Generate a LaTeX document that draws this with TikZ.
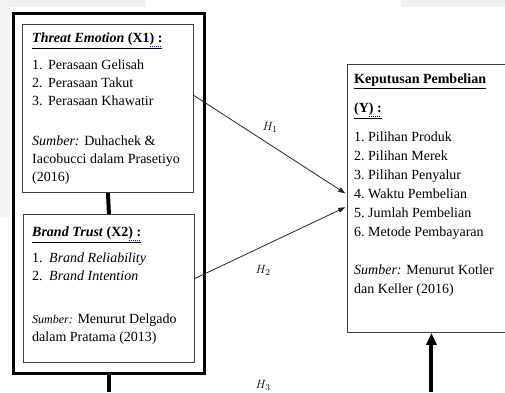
\documentclass[tikz,border=0pt]{standalone}
\usepackage{fontspec}
\setmainfont{Liberation Serif}
\usetikzlibrary{arrows.meta}
\tikzset{
  box/.style={draw=black!75, line width=0.9pt, inner sep=0pt, anchor=north west},
  txt/.style={anchor=north west, inner sep=0pt, align=left, font=\fontsize{14}{18}\selectfont},
  link/.style={black!85, line width=0.8pt, shorten >=2pt, -{Triangle[length=7pt,width=5pt]}},
  heavy/.style={line width=4pt},
  hyp/.style={font=\fontsize{13}{13}\selectfont}
}
\newcommand{\itm}[2]{\makebox[#1][l]{#2}}
\newlength{\spellw}
\newcommand{\spellmark}[1]{\settowidth{\spellw}{#1}\rlap{\raisebox{-4pt}{\color{blue!80!black}\leaders\hbox to 2pt{\hss\rule{1pt}{0.8pt}\hss}\hskip\spellw}}#1}
\begin{document}
\begin{tikzpicture}[x=1pt,y=-1pt]
  \useasboundingbox (0,0) rectangle (505,392);
  \clip (0,0) rectangle (505,392);
  %\fill[white] (0,0) rectangle (505,392);
  \fill[black!5] (0,0) rectangle (146,7);
  \fill[black!5] (401,0) rectangle (505,7);
  \fill[black!4] (0,7) rectangle (10,217);
  \coordinate (bottom) at (0,392);
  % left side: the two variables X1 and X2
  \node[box, draw=black, line width=2.5pt, minimum width=191pt, minimum height=360pt] (outer) at (12,12) {};
  \node[box, minimum width=171pt, minimum height=168pt] (emo) at (22,24) {};
  \node[box, minimum width=171pt, minimum height=148pt] (trust) at (23,214) {};
  \node[txt] (emotxt) at (32,33) {\underline{\textbf{\textit{Threat Emotion}} \textbf{(X1\spellmark{) :}}}\\[9pt]
    \itm{16pt}{1.}Perasaan Gelisah\\
    \itm{16pt}{2.}Perasaan Takut\\
    \itm{16pt}{3.}Perasaan Khawatir\\[22pt]
    \textit{Sumber:} Duhachek \&\\
    Iacobucci dalam Prasetiyo\\
    (2016)};
  \node[txt] (trusttxt) at (32,227) {\underline{\textbf{\textit{Brand Trust}} \textbf{(X2\spellmark{) :}}}\\[8pt]
    \itm{17pt}{1.}\textit{Brand Reliability}\\
    \itm{17pt}{2.}\textit{Brand Intention}\\[25pt]
    {\fontsize{12}{18}\selectfont\textit{Sumber:}} Menurut Delgado\\
    dalam Pratama (2013)};
  % right side: Y
  \node[box, minimum width=168pt, minimum height=268pt] (kep) at (347,64) {};
  \node[txt, font=\fontsize{14}{19}\selectfont] (keptxt) at (354,74) {\underline{\textbf{Keputusan Pembelian}}\\[10pt]
    \underline{\textbf{(Y\spellmark{) :}}}\\[10pt]
    \itm{14pt}{1.}Pilihan Produk\\
    \itm{14pt}{2.}Pilihan Merek\\
    \itm{14pt}{3.}Pilihan Penyalur\\
    \itm{14pt}{4.}Waktu Pembelian\\
    \itm{14pt}{5.}Jumlah Pembelian\\
    \itm{14pt}{6.}Metode Pembayaran\\[19pt]
    \textit{Sumber:} Menurut Kotler\\
    dan Keller (2016)};
  % connectors
  \draw[heavy] (emo.south) -- (trust.north);
  \draw[heavy] (outer.south) -- (outer.south |- bottom);
  \draw[heavy, -{Triangle[length=12pt,width=10pt]}] (kep.south |- bottom) -- (kep.south);
  \draw[link] ([yshift=13pt]emo.east) -- ([yshift=4pt]kep.west);
  \draw[link] ([yshift=10pt]trust.east) -- ([yshift=-8pt]kep.west);
  \node[hyp] (h1) at (270,127) {$H_1$};
  \node[hyp] (h2) at (263,270) {$H_2$};
  \node[hyp] (h3) at (263,385) {$H_3$};
\end{tikzpicture}
\end{document}
